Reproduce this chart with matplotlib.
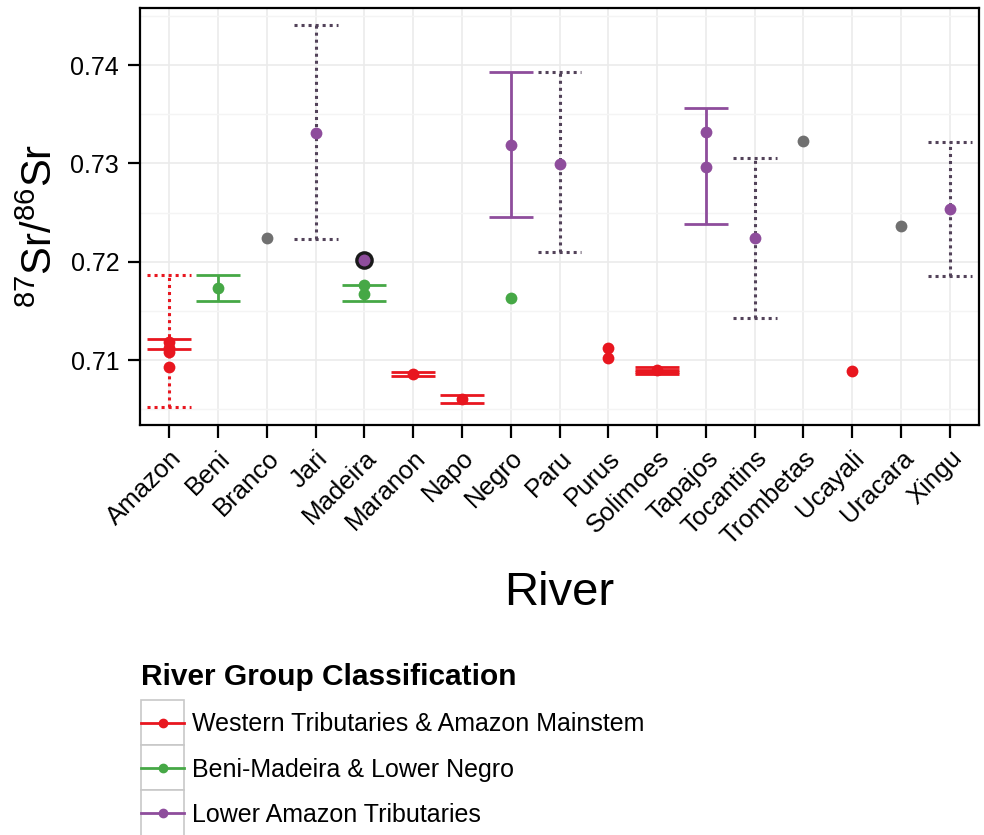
import matplotlib
matplotlib.use("Agg")
import matplotlib.pyplot as plt
from matplotlib.lines import Line2D
from matplotlib.patches import Rectangle
from matplotlib.legend_handler import HandlerLine2D
from matplotlib.ticker import MultipleLocator

plt.rcParams['font.family'] = ['Liberation Sans', 'DejaVu Sans']
plt.rcParams['mathtext.default'] = 'regular'

rivers = ["Amazon", "Beni", "Branco", "Jari", "Madeira", "Maranon", "Napo", "Negro",
          "Paru", "Purus", "Solimoes", "Tapajos", "Tocantins", "Trombetas", "Ucayali",
          "Uracara", "Xingu"]

group_names = ["Western Tributaries & Amazon Mainstem", "Beni-Madeira & Lower Negro",
               "Lower Amazon Tributaries"]
group_colors = {"W": "#e8161f", "B": "#46a846", "L": "#8e4d9c", "N": "#707070"}
range_colors = {"W": "#e8161f", "L": "#524259"}

# individual sample points
pt_river = ["Amazon", "Amazon", "Amazon", "Amazon", "Beni", "Branco", "Jari",
            "Madeira", "Madeira", "Maranon", "Napo", "Negro", "Negro", "Paru",
            "Purus", "Purus", "Solimoes", "Tapajos", "Tapajos", "Tocantins",
            "Trombetas", "Ucayali", "Uracara", "Xingu"]
pt_value = [0.7118, 0.7112, 0.7108, 0.7093, 0.7173, 0.7224, 0.7331,
            0.7176, 0.7167, 0.70857, 0.7060, 0.7319, 0.7163, 0.7299,
            0.7112, 0.7102, 0.70897, 0.7332, 0.7296, 0.7224,
            0.7323, 0.7089, 0.7236, 0.7254]
pt_group = ["W", "W", "W", "W", "B", "N", "L",
            "B", "B", "W", "W", "L", "B", "L",
            "W", "W", "W", "L", "L", "L",
            "N", "W", "N", "L"]

# highlighted point
hl_river = ["Madeira"]
hl_value = [0.7202]

# solid error bars
sd_river = ["Amazon", "Beni", "Madeira", "Maranon", "Napo", "Negro", "Solimoes",
            "Solimoes", "Tapajos"]
sd_low = [0.7111, 0.7160, 0.7160, 0.70836, 0.70562, 0.7245, 0.70857, 0.70880, 0.7238]
sd_high = [0.7121, 0.7186, 0.7176, 0.70877, 0.70643, 0.7393, 0.70928, 0.70902, 0.7356]
sd_group = ["W", "B", "B", "W", "W", "L", "W", "W", "L"]

# dotted range bars
rg_river = ["Amazon", "Jari", "Paru", "Tocantins", "Xingu"]
rg_low = [0.70521, 0.7223, 0.7210, 0.7143, 0.7185]
rg_high = [0.71864, 0.7441, 0.7393, 0.7305, 0.7322]
rg_group = ["W", "L", "L", "L", "L"]

yticks = [0.71, 0.72, 0.73, 0.74]

fig = plt.figure(figsize=(9.84, 8.35), dpi=100)
ax = fig.add_axes([140 / 984, 1 - 425 / 835, 839 / 984, 417 / 835])

xi = {r: i for i, r in enumerate(rivers)}
hw = 0.45

# dotted ranges
for r, lo, hi, g in zip(rg_river, rg_low, rg_high, rg_group):
    x = xi[r]
    c = range_colors[g]
    ls = (0, (1, 1.3))
    ax.vlines(x, lo, hi, color=c, lw=2.2, linestyles=[ls], zorder=2)
    ax.hlines([lo, hi], x - hw, x + hw, color=c, lw=2.2, linestyles=[ls], zorder=2)

# solid error bars
for r, lo, hi, g in zip(sd_river, sd_low, sd_high, sd_group):
    x = xi[r]
    c = group_colors[g]
    ax.vlines(x, lo, hi, color=c, lw=2.0, zorder=3)
    ax.hlines([lo, hi], x - hw, x + hw, color=c, lw=2.0, zorder=3)

# points
for r, v, g in zip(pt_river, pt_value, pt_group):
    ax.plot(xi[r], v, 'o', color=group_colors[g], markersize=8.5, mew=0, zorder=4)

for r, v in zip(hl_river, hl_value):
    ax.plot(xi[r], v, 'o', color=group_colors["L"], markersize=11, mec='#1a1a1a', mew=2.4, zorder=5)

ax.set_xlim(-0.6, len(rivers) - 1 + 0.6)
ax.set_ylim(0.70339, 0.7458)
ax.set_xticks(range(len(rivers)))
ax.set_xticklabels(rivers, rotation=45, ha='right', rotation_mode='anchor', fontsize=18.5)
ax.set_yticks(yticks)
ax.set_yticklabels([f"{t:.2f}" for t in yticks], fontsize=18)
ax.yaxis.set_minor_locator(MultipleLocator(0.005))
ax.grid(True, which='major', color='#ebebeb', lw=1.2, zorder=0)
ax.grid(True, which='minor', axis='y', color='#f4f4f4', lw=1.0, zorder=0)
ax.set_axisbelow(True)
ax.tick_params(axis='both', which='major', length=9, width=1.6, color='black')
ax.tick_params(axis='y', which='major', pad=6)
ax.tick_params(axis='x', which='major', pad=6)
ax.tick_params(axis='y', which='minor', length=0)
for s in ax.spines.values():
    s.set_linewidth(1.6)
    s.set_color('black')

ax.set_xlabel("River", fontsize=34, labelpad=16)
ax.set_ylabel(r"$^{87}$Sr/$^{86}$Sr", fontsize=30)
ax.yaxis.set_label_coords(-0.094, 0.477)


class BoxHandler(HandlerLine2D):
    def create_artists(self, legend, orig_handle, xdescent, ydescent, width, height, fontsize, trans):
        arts = super().create_artists(legend, orig_handle, xdescent, ydescent, width, height, fontsize, trans)
        pad = 10
        rect = Rectangle((-xdescent, -ydescent - pad), width, height + 2 * pad,
                         fc='white', ec='#c8c8c8', lw=1.2, transform=trans)
        return [rect] + arts


handles = [Line2D([], [], color=group_colors[g], marker='o', markersize=6, lw=2)
           for g in ["W", "B", "L"]]
leg = fig.legend(handles, group_names, loc='upper left',
                 bbox_to_anchor=(141 / 984, 1 - 663 / 835), frameon=False,
                 title="River Group Classification", alignment='left',
                 fontsize=18, title_fontproperties={'weight': 'bold', 'size': 21.5},
                 handlelength=1.72, handletextpad=0.3, labelspacing=0.85, borderpad=0,
                 borderaxespad=0,
                 handler_map={Line2D: BoxHandler(numpoints=1)})

fig.savefig("out.png", dpi=100)
